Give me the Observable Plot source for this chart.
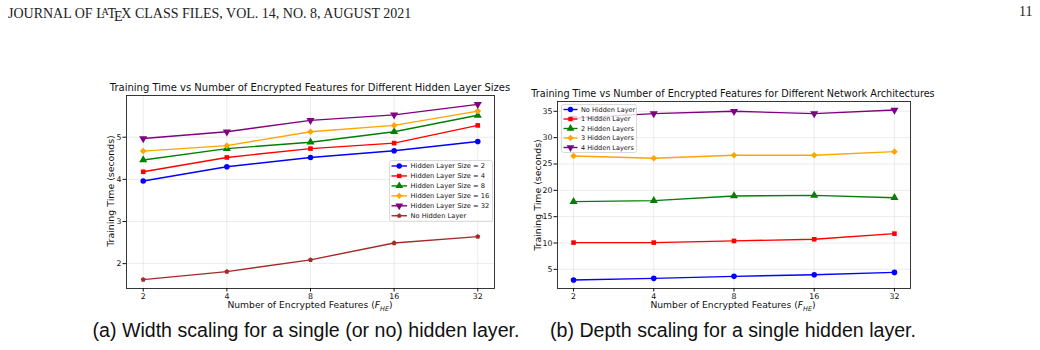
<!DOCTYPE html>
<html>
<head>
<meta charset="utf-8">
<script src="https://cdn.jsdelivr.net/npm/d3@7"></script>
<script src="https://cdn.jsdelivr.net/npm/@observablehq/plot@0.6"></script>
<style>
  html, body { margin: 0; padding: 0; background: #fff; }
  body { width: 1040px; height: 350px; position: relative; overflow: hidden; }
  .abs { position: absolute; white-space: nowrap; }
  .serif { font-family: "Liberation Serif", "DejaVu Serif", serif; color: #222; }
  .mpl { font-family: "DejaVu Sans", sans-serif; color: #111; }
  .ctr { text-align: center; }
  .cap { font-family: "Liberation Sans", Arial, sans-serif; font-size: 19.6px; color: #111; line-height: 22px; }
  .la { font-size: 0.72em; vertical-align: 0.28em; margin-left: -0.33em; margin-right: -0.12em; }
  .le { vertical-align: -0.45ex; margin-left: -0.14em; margin-right: -0.1em; }
  .ylab { transform: translate(-50%, -50%) rotate(-90deg); transform-origin: center; }
</style>
</head>
<body>
<div class="abs serif" style="left:8px;top:4px;font-size:14px;line-height:16px;">JOURNAL OF L<span class="la">A</span>T<span class="le">E</span>X CLASS FILES, VOL. 14, NO. 8, AUGUST 2021</div>
<div class="abs serif" style="left:1019px;top:4px;font-size:14px;line-height:16px;">11</div>

<div id="titleA" class="abs mpl ctr" style="left:60px;width:500px;top:82px;font-size:10px;line-height:12px;">Training Time vs Number of Encrypted Features for Different Hidden Layer Sizes</div>
<div id="chartA" class="abs" style="left:90px;top:78px;"></div>
<div class="abs mpl ylab" style="left:110px;top:191px;font-size:9.4px;line-height:11px;">Training Time (seconds)</div>
<div class="abs mpl ctr" style="left:160px;width:300px;top:299px;font-size:9.2px;line-height:11px;">Number of Encrypted Features (<i>F</i><sub style="font-size:0.7em;font-style:italic;line-height:0;">HE</sub>)</div>
<div id="legendA" class="abs"></div>

<div id="titleB" class="abs mpl ctr" style="left:483px;width:500px;top:88px;font-size:9.7px;line-height:12px;">Training Time vs Number of Encrypted Features for Different Network Architectures</div>
<div id="chartB" class="abs" style="left:520px;top:84px;"></div>
<div class="abs mpl ylab" style="left:537px;top:194.5px;font-size:9.4px;line-height:11px;">Training Time (seconds)</div>
<div class="abs mpl ctr" style="left:583px;width:300px;top:299px;font-size:9.2px;line-height:11px;">Number of Encrypted Features (<i>F</i><sub style="font-size:0.7em;font-style:italic;line-height:0;">HE</sub>)</div>
<div id="legendB" class="abs"></div>

<div class="abs cap ctr" style="left:56px;width:500px;top:319px;">(a) Width scaling for a single (or no) hidden layer.</div>
<div class="abs cap ctr" style="left:483px;width:500px;top:319px;">(b) Depth scaling for a single hidden layer.</div>

<script>
// Number of encrypted features on the x axis (log2 spaced)
const features = [2, 4, 8, 16, 32];

// (a) Width scaling: training time in seconds
const widthLabels = [
  "Hidden Layer Size = 2",
  "Hidden Layer Size = 4",
  "Hidden Layer Size = 8",
  "Hidden Layer Size = 16",
  "Hidden Layer Size = 32",
  "No Hidden Layer"
];
const hiddenSize2  = [3.96, 4.30, 4.52, 4.68, 4.90];
const hiddenSize4  = [4.18, 4.52, 4.73, 4.86, 5.28];
const hiddenSize8  = [4.46, 4.73, 4.88, 5.13, 5.52];
const hiddenSize16 = [4.67, 4.80, 5.13, 5.28, 5.62];
const hiddenSize32 = [4.97, 5.13, 5.40, 5.53, 5.78];
const noHiddenWidth = [1.62, 1.81, 2.09, 2.49, 2.64];
const widthTicks = [2, 3, 4, 5];

// (b) Depth scaling: training time in seconds
const depthLabels = [
  "No Hidden Layer",
  "1 Hidden Layer",
  "2 Hidden Layers",
  "3 Hidden Layers",
  "4 Hidden Layers"
];
const depth0 = [2.98, 3.30, 3.68, 3.98, 4.43];
const depth1 = [10.08, 10.08, 10.40, 10.71, 11.78];
const depth2 = [17.86, 18.05, 18.93, 19.05, 18.60];
const depth3 = [26.53, 26.09, 26.66, 26.66, 27.34];
const depth4 = [33.70, 34.56, 35.00, 34.56, 35.25];
const depthTicks = [5, 10, 15, 20, 25, 30, 35];

// Downward-pointing triangle marker
const triangleDown = {
  draw(context, size) {
    const s3 = Math.sqrt(3);
    const y = -Math.sqrt(size / (s3 * 3));
    context.moveTo(0, -y * 2);
    context.lineTo(-s3 * y, y);
    context.lineTo(s3 * y, y);
    context.closePath();
  }
};

// Regular pentagon marker
const pentagon = {
  draw(context, size) {
    const k = 5 / 2 * Math.sin(2 * Math.PI / 5);
    const R = Math.sqrt(size / k);
    for (let i = 0; i < 5; i++) {
      const a = -Math.PI / 2 + i * 2 * Math.PI / 5;
      const x = R * Math.cos(a), y = R * Math.sin(a);
      if (i === 0) context.moveTo(x, y); else context.lineTo(x, y);
    }
    context.closePath();
  }
};

const widthColors = ["blue", "red", "green", "orange", "purple", "brown"];
const widthSymbols = [d3.symbolCircle, d3.symbolSquare, d3.symbolTriangle, d3.symbolDiamond2, triangleDown, pentagon];
const widthSizes = [2.8, 2.6, 3.0, 3.0, 3.0, 2.3];
const depthColors = ["blue", "red", "green", "orange", "purple"];
const depthSymbols = [d3.symbolCircle, d3.symbolSquare, d3.symbolTriangle, d3.symbolDiamond2, triangleDown];
const depthSizes = [2.8, 2.6, 3.0, 3.0, 3.0];

function toRows(labels, values) {
  return labels.flatMap((s, i) => features.map((f, j) => ({series: s, f, t: values[i][j]})));
}

function chart({labels, values, colors, symbols, sizes, yDomain, yTicks, width, height, margins}) {
  const rows = toRows(labels, values);
  const grid = {stroke: "#b0b0b0", strokeOpacity: 0.3, strokeWidth: 0.8};
  return Plot.plot({
    width, height,
    marginLeft: margins[3], marginRight: margins[1], marginTop: margins[0], marginBottom: margins[2],
    style: {fontFamily: "DejaVu Sans", fontSize: "7.8px", color: "#111", background: "transparent", overflow: "visible"},
    x: {type: "log", base: 2, domain: [2 ** 0.8, 2 ** 5.2]},
    y: {domain: yDomain},
    color: {domain: labels, range: colors},
    symbol: {domain: labels, range: symbols},
    marks: [
      Plot.gridX(features, grid),
      Plot.gridY(yTicks, grid),
      ...labels.flatMap((s, i) => {
        const data = rows.filter(d => d.series === s);
        return [
          Plot.line(data, {x: "f", y: "t", stroke: "series", strokeWidth: 1.4}),
          Plot.dot(data, {x: "f", y: "t", fill: "series", symbol: "series", r: sizes[i]})
        ];
      }),
      Plot.frame({stroke: "#222", strokeWidth: 0.9}),
      Plot.axisX(features, {tickFormat: d => String(d), tickSize: 3.5, tickPadding: 1.5, label: null}),
      Plot.axisY(yTicks, {tickSize: 3.5, tickPadding: 1.5, label: null})
    ]
  });
}

// Legend drawn as a small box with line + marker swatches
function legend(el, labels, colors, symbols, sizes, o) {
  const h = o.top0 * 2 + o.step * (labels.length - 1);
  const svg = d3.create("svg").attr("width", o.width + 1).attr("height", h + 1)
    .style("overflow", "visible");
  svg.append("rect").attr("x", 0.5).attr("y", 0.5).attr("width", o.width).attr("height", h)
    .attr("rx", 2).attr("fill", "white").attr("fill-opacity", 0.8)
    .attr("stroke", "#d0d0d0").attr("stroke-width", 0.8);
  labels.forEach((s, i) => {
    const y = o.top0 + i * o.step + 0.5;
    svg.append("line").attr("x1", o.sw0).attr("x2", o.sw1).attr("y1", y).attr("y2", y)
      .attr("stroke", colors[i]).attr("stroke-width", 1.4);
    const r = sizes[i] * 0.95;
    svg.append("path").attr("d", d3.symbol(symbols[i], Math.PI * r * r)())
      .attr("transform", `translate(${(o.sw0 + o.sw1) / 2},${y})`).attr("fill", colors[i]);
    svg.append("text").attr("x", o.tx).attr("y", y).attr("dy", "0.35em")
      .attr("font-family", "DejaVu Sans").attr("font-size", o.fontSize).attr("fill", "#111")
      .text(s);
  });
  el.style.left = o.left + "px";
  el.style.top = o.top + "px";
  el.appendChild(svg.node());
}

document.getElementById("chartA").appendChild(chart({
  labels: widthLabels,
  values: [hiddenSize2, hiddenSize4, hiddenSize8, hiddenSize16, hiddenSize32, noHiddenWidth],
  colors: widthColors, symbols: widthSymbols, sizes: widthSizes,
  yDomain: [1.41, 5.99], yTicks: widthTicks,
  width: 430, height: 235, margins: [17, 26, 25, 36]
}));

document.getElementById("chartB").appendChild(chart({
  labels: depthLabels,
  values: [depth0, depth1, depth2, depth3, depth4],
  colors: depthColors, symbols: depthSymbols, sizes: depthSizes,
  yDomain: [1.37, 36.86], yTicks: depthTicks,
  width: 420, height: 229, margins: [17, 30, 25, 37]
}));

legend(document.getElementById("legendA"), widthLabels, widthColors, widthSymbols, widthSizes,
  {left: 388.5, top: 159.5, width: 103, top0: 5.5, step: 9.95, sw0: 2.5, sw1: 18, tx: 21.5, fontSize: "6.7px"});
legend(document.getElementById("legendB"), depthLabels, depthColors, depthSymbols, depthSizes,
  {left: 560.5, top: 103.5, width: 75, top0: 5, step: 9.5, sw0: 2.5, sw1: 16.5, tx: 20, fontSize: "6.5px"});
</script>
</body>
</html>
